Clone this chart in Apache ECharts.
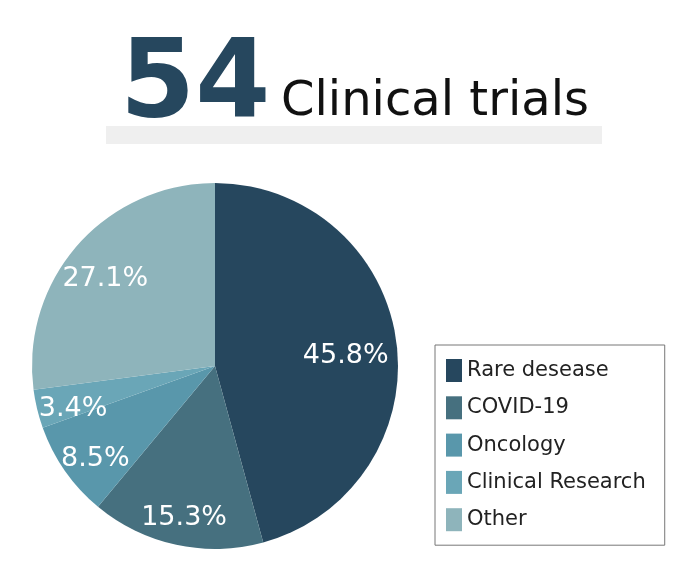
<!DOCTYPE html>
<html>
<head>
<meta charset="utf-8">
<script src="https://cdn.jsdelivr.net/npm/echarts@6/dist/echarts.min.js"></script>
<style>
html, body { margin: 0; padding: 0; background: #fff; }
#main { width: 700px; height: 580px; }
</style>
</head>
<body>
<div id="main"></div>
<script>
// 数据
var categories = ['Rare desease', 'COVID-19', 'Oncology', 'Clinical Research', 'Other'];
var shares = [45.8, 15.3, 8.5, 3.4, 27.1];
var colors = ['#26475e', '#46707f', '#5997ab', '#6aa6b7', '#8eb4bb'];
var trialCount = '54';

var fontName = '"DejaVu Sans", sans-serif';

var pieData = [];
for(var i = 0; i < categories.length; i++) {
	pieData.push({ name: categories[i], value: shares[i], itemStyle: { color: colors[i] } });
}

// 标签层数据, 第一个标签往里挪一点
var labelData = [];
for(var j = 0; j < categories.length; j++) {
	var item = { name: categories[j], value: shares[j] };
	if(j == 0) {
		item.label = { padding: [0, 28, 0, 0] };
	}
	labelData.push(item);
}

var option = {
	animation: false,
	textStyle: { fontFamily: fontName },
	graphic: [
		{
			type: 'rect',
			shape: { x: 106, y: 126, width: 496, height: 18 },
			style: { fill: '#efefef' },
			z: 1
		},
		{
			type: 'text',
			left: 120,
			top: 34,
			style: {
				text: trialCount,
				fill: '#26475e',
				font: 'bold 108px ' + fontName
			},
			z: 2
		},
		{
			type: 'text',
			left: 281,
			top: 79,
			style: {
				text: 'Clinical trials',
				fill: '#111',
				font: '48px ' + fontName
			},
			z: 2
		}
	],
	legend: {
		orient: 'vertical',
		left: 435,
		top: 345,
		itemWidth: 16,
		itemHeight: 23,
		itemGap: 14.3,
		padding: [14, 19, 14, 11],
		borderColor: '#777',
		borderWidth: 1,
		icon: 'rect',
		data: categories,
		textStyle: { fontSize: 21, color: '#222', fontFamily: fontName }
	},
	series: [
		{
			type: 'pie',
			center: [215, 366],
			radius: [0, 183],
			startAngle: 90,
			clockwise: true,
			silent: true,
			label: { show: false },
			labelLine: { show: false },
			data: pieData
		},
		{
			// 透明层, 只用来放百分比标签 (稍微往下)
			type: 'pie',
			center: [215, 375],
			radius: [103, 183],
			startAngle: 90,
			clockwise: true,
			silent: true,
			legendHoverLink: false,
			itemStyle: { color: 'rgba(0,0,0,0)' },
			label: {
				show: true,
				position: 'inside',
				formatter: function(p) { return p.value.toFixed(1) + '%'; },
				color: '#fff',
				fontSize: 27,
				fontFamily: fontName
			},
			labelLine: { show: false },
			data: labelData
		}
	]
};

var chart = echarts.init(document.getElementById('main'));
chart.setOption(option);
</script>
</body>
</html>
